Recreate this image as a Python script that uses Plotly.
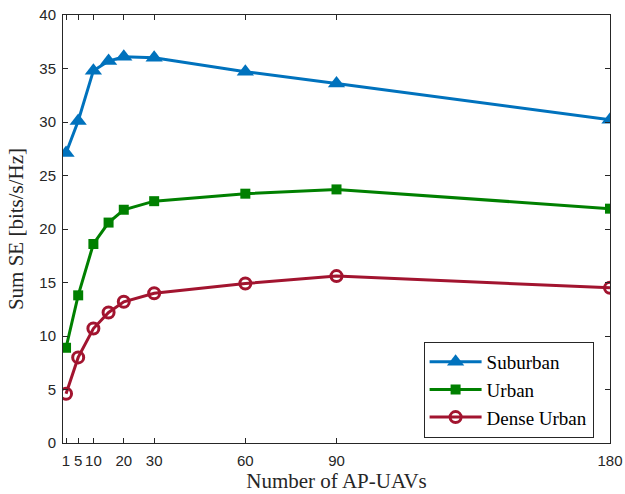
import plotly.graph_objects as go

x_vals = [1, 5, 10, 15, 20, 30, 60, 90, 180]
suburban = [27.1, 30.1, 34.8, 35.7, 36.1, 36.0, 34.7, 33.6, 30.2]
urban = [8.9, 13.8, 18.6, 20.6, 21.8, 22.6, 23.3, 23.7, 21.9]
dense_urban = [4.6, 8.0, 10.7, 12.2, 13.2, 14.0, 14.9, 15.6, 14.5]
x_ticks = [1, 5, 10, 20, 30, 60, 90, 180]
y_ticks = [0, 5, 10, 15, 20, 25, 30, 35, 40]

fig = go.Figure()
fig.add_trace(go.Scatter(x=x_vals, y=suburban, name="Suburban", mode="lines+markers",
                         line=dict(color="#0072BD", width=3),
                         marker=dict(symbol="triangle-up", size=15, color="#0072BD")))
fig.add_trace(go.Scatter(x=x_vals, y=urban, name="Urban", mode="lines+markers",
                         line=dict(color="#008000", width=3),
                         marker=dict(symbol="square", size=10, color="#008000")))
fig.add_trace(go.Scatter(x=x_vals, y=dense_urban, name="Dense Urban", mode="lines+markers",
                         line=dict(color="#A2142F", width=3),
                         marker=dict(symbol="circle-open", size=11, color="#A2142F",
                                     line=dict(width=3, color="#A2142F"))))

axis_common = dict(showline=True, linecolor="#262626", linewidth=1, mirror="ticks",
                   ticks="inside", ticklen=5, tickcolor="#262626", showgrid=False,
                   zeroline=False, automargin=False, ticklabeloverflow="allow",
                   tickfont=dict(family="Liberation Sans", size=15, color="#262626"))
fig.update_xaxes(range=[0, 180], tickvals=x_ticks, ticktext=[str(v) for v in x_ticks],
                 ticklabelstandoff=4,
                 title=dict(text="Number of AP-UAVs", font=dict(family="Liberation Serif", size=21, color="#262626"),
                            standoff=0), **axis_common)
fig.update_yaxes(range=[0, 40], tickvals=y_ticks, ticklabelstandoff=3,
                 title=dict(text="Sum SE [bits/s/Hz]", font=dict(family="Liberation Serif", size=21, color="#262626"),
                            standoff=9), **axis_common)
fig.update_layout(
    width=625, height=494,
    margin=dict(l=63, r=15, t=15, b=51),
    paper_bgcolor="white", plot_bgcolor="white",
    legend=dict(x=0.97, y=0.012, xanchor="right", yanchor="bottom",
                bgcolor="white", bordercolor="#262626", borderwidth=1,
                font=dict(family="Liberation Serif", size=19, color="#000000"),
                itemwidth=52, tracegroupgap=0),
)
fig.write_html("out.html", config={"displayModeBar": False},
               post_script="document.body.style.margin='0';document.body.style.overflow='hidden';")
